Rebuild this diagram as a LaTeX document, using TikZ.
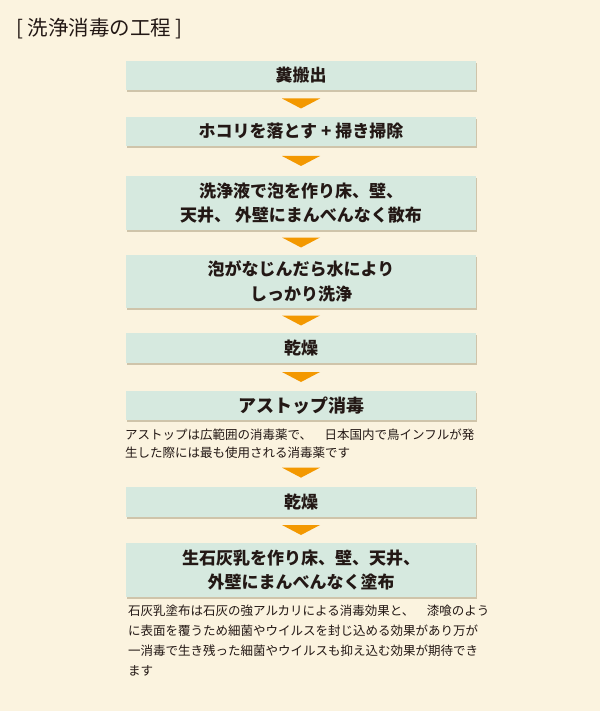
\documentclass[tikz,border=0pt]{standalone}
\usepackage{fontspec}
\setmainfont{Noto Sans CJK JP}
\usetikzlibrary{calc,shadows}
\definecolor{bgc}{HTML}{FBF3DF}
\definecolor{boxc}{HTML}{D6E9DF}
\definecolor{shadc}{HTML}{CFC4AA}
\definecolor{arrc}{HTML}{F39800}
\definecolor{txtc}{HTML}{231815}
\tikzset{
  stepbox/.style={fill=boxc, minimum width=350pt, inner sep=0pt, align=center,
    text=txtc, font=\fontsize{17}{24.5}\selectfont\bfseries,
    drop shadow={shadow xshift=1.2pt, shadow yshift=-1.6pt, fill=shadc, opacity=1}},
  desc/.style={anchor=west, inner sep=0pt, text=txtc, font=\fontsize{12.5}{18}\selectfont},
  tri/.style={fill=arrc}
}
\newcommand{\downtri}[2]{%
  \path (#1) -- (#2) coordinate[pos=0.5] (tmpm);
  \fill[tri] ($(tmpm)+(-19,-5)$) -- ($(tmpm)+(19,-5)$) -- ($(tmpm)+(0,5)$) -- cycle;}
\begin{document}
\begin{tikzpicture}[x=1pt,y=-1pt]
\fill[bgc] (0,0) rectangle (600,711);
\useasboundingbox (0,0) rectangle (600,711);
\node[anchor=west, inner sep=0pt, text=txtc, font=\fontsize{20.5}{22}\selectfont] (title) at (16,29) {[ 洗浄消毒の工程 ]};

\node[stepbox, minimum height=29pt] (b1) at (301,75.5) {糞搬出};
\node[stepbox, minimum height=29pt] (b2) at (301,131.5) {ホコリを落とす + 掃き掃除};
\node[stepbox, minimum height=54pt] (b3) at (301,203) {洗浄液で泡を作り床、壁、\\天井、 外壁にまんべんなく散布};
\node[stepbox, minimum height=53pt] (b4) at (301,281.5) {泡がなじんだら水により\\しっかり洗浄};
\node[stepbox, minimum height=30pt] (b5) at (301,348) {乾燥};
\node[stepbox, minimum height=29pt, font=\fontsize{18}{24}\selectfont\bfseries] (b6) at (301,405.5) {アストップ消毒};
\node[desc] (d6a) at (125,434.5) {アストップは広範囲の消毒薬で、　日本国内で鳥インフルが発};
\node[desc] (d6b) at (125,452.5) {生した際には最も使用される消毒薬です};
\node[stepbox, minimum height=30pt] (b7) at (301,502) {乾燥};
\node[stepbox, minimum height=54pt] (b8) at (301,570) {生石灰乳を作り床、壁、天井、\\外壁にまんべんなく塗布};
\node[desc] (d8a) at (128,611) {石灰乳塗布は石灰の強アルカリによる消毒効果と、　漆喰のよう};
\node[desc] (d8b) at (128,631) {に表面を覆うため細菌やウイルスを封じ込める効果があり万が};
\node[desc] (d8c) at (128,651) {一消毒で生き残った細菌やウイルスも抑え込む効果が期待でき};
\node[desc] (d8d) at (128,670.5) {ます};

\downtri{b1.south}{b2.north}
\downtri{b2.south}{b3.north}
\downtri{b3.south}{b4.north}
\downtri{b4.south}{b5.north}
\downtri{b5.south}{b6.north}
\downtri{d6b.south -| b7.north}{b7.north}
\downtri{b7.south}{b8.north}
\end{tikzpicture}
\end{document}
